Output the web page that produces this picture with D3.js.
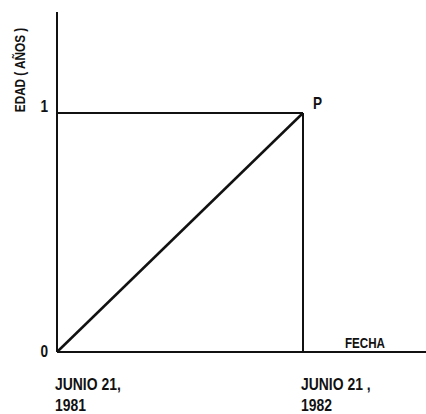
<!DOCTYPE html>
<html><head><meta charset="utf-8">
<script src="https://cdn.jsdelivr.net/npm/d3@7"></script>
<style>
body{margin:0;background:#fff;}
text{font-family:"Liberation Sans",Arial,sans-serif;font-weight:bold;fill:#111;}
</style></head>
<body><svg id="c" width="426" height="414"></svg>
<script>
const fechas = [0, 1];
const fechaLabels = [["JUNIO 21,", "1981"], ["JUNIO 21 ,", "1982"]];
const edades = [0, 1];
const edadTicks = [0, 1];
const pointLabel = "P";
const xTitle = "FECHA";
const yTitle = "EDAD ( AÑOS )";

const svg = d3.select("#c");
const x = d3.scaleLinear().domain([0, 1]).range([57, 303]);
const y = d3.scaleLinear().domain([0, 1]).range([352, 113]);
const xMax = x.invert(426), yMax = y.invert(12);

const g = svg.append("g");
function narrow(sel, ax, sx) {
  sel.attr("transform", `translate(${ax},0) scale(${sx},1) translate(${-ax},0)`);
}
// axes
g.append("line").attr("x1", x(0)).attr("x2", x(xMax)).attr("y1", y(0)).attr("y2", y(0))
  .attr("stroke", "#111").attr("stroke-width", 2);
g.append("line").attr("x1", x(0)).attr("x2", x(0)).attr("y1", y(0)).attr("y2", y(yMax))
  .attr("stroke", "#111").attr("stroke-width", 2);

// guide lines to P
const px = fechas[1], py = edades[1];
g.append("line").attr("x1", x(0)).attr("x2", x(px)).attr("y1", y(py)).attr("y2", y(py))
  .attr("stroke", "#111").attr("stroke-width", 2);
g.append("line").attr("x1", x(px)).attr("x2", x(px)).attr("y1", y(0)).attr("y2", y(py))
  .attr("stroke", "#111").attr("stroke-width", 2);

// diagonal
const line = d3.line().x((d, i) => x(fechas[i])).y(d => y(d));
g.append("path").datum(edades).attr("d", line).attr("fill", "none")
  .attr("stroke", "#111").attr("stroke-width", 2.5);

// y tick labels
g.selectAll(".yt").data(edadTicks).enter().append("text")
  .attr("x", 48).attr("y", d => d === 0 ? y(d) + 5 : y(d) - 1)
  .attr("text-anchor", "end").attr("font-size", 16)
  .each(function () { narrow(d3.select(this), 48, 0.85); })
  .text(d => d);

// x tick labels
fechaLabels.forEach((lbl, i) => {
  const ax = x(fechas[i]) - 2;
  const t = g.append("text").attr("font-size", 17);
  narrow(t, ax, 0.82);
  t.append("tspan").attr("x", ax).attr("y", 390).text(lbl[0]);
  t.append("tspan").attr("x", ax).attr("y", 411).text(lbl[1]);
});

// point label
const pl = g.append("text").attr("x", x(px) + 10).attr("y", y(py) - 4).attr("font-size", 16).text(pointLabel);
narrow(pl, x(px) + 10, 0.85);

// axis titles
const xt = g.append("text").attr("x", 345).attr("y", 348).attr("font-size", 14).text(xTitle);
narrow(xt, 345, 0.83);
g.append("text").attr("transform", "translate(25,70) rotate(-90) scale(0.84,1)")
  .attr("text-anchor", "middle").attr("font-size", 14).text(yTitle);
</script></body></html>
